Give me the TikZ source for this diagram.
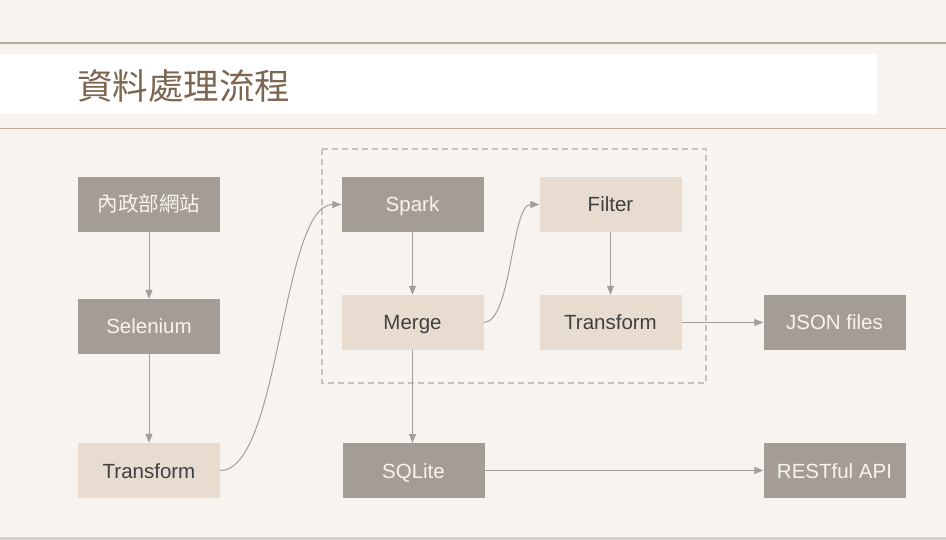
\documentclass[tikz,border=0pt]{standalone}
\usepackage{fontspec}
\setmainfont{Liberation Sans}
\newfontfamily\cjk{Noto Sans CJK TC}
\usetikzlibrary{arrows.meta}
\definecolor{bgc}{HTML}{F7F4EF}
\definecolor{rulec}{HTML}{B9AA9B}
\definecolor{titlec}{HTML}{7D6650}
\definecolor{darkc}{HTML}{A39D96}
\definecolor{lightc}{HTML}{E8DCD0}
\definecolor{darktxt}{HTML}{F7F4F0}
\definecolor{lighttxt}{HTML}{404040}
\definecolor{arrc}{HTML}{A39D96}
\definecolor{dashc}{HTML}{C6C2BD}
\definecolor{footc}{HTML}{D3D1CE}
\tikzset{
  box/.style={minimum width=142pt, minimum height=55pt, inner sep=0pt, text height=17pt, text depth=2pt, font=\fontsize{20.5}{22}\selectfont},
  darkbox/.style={box, fill=darkc, text=darktxt},
  lightbox/.style={box, fill=lightc, text=lighttxt},
  conn/.style={draw=arrc, line width=1pt, -{Triangle[length=9pt,width=7pt]}},
}
\begin{document}
\begin{tikzpicture}[x=1pt,y=-1pt]
\useasboundingbox (0,0) rectangle (946,540);
\fill[bgc] (0,0) rectangle (946,540);
\fill[footc] (0,537) rectangle (946,540);
\draw[rulec, line width=1.5pt] (0,43) -- (946,43);
\fill[white] (0,54) rectangle (877,114);
\draw[rulec, line width=1.5pt] (0,128.5) -- (946,128.5);
\node[anchor=west, inner sep=0pt, text=titlec, font=\cjk\fontsize{35.5}{38}\selectfont] (title) at (77,86) {資料處理流程};

\draw[dashc, line width=1.3pt, dash pattern=on 6pt off 4pt] (322,149) rectangle (706,383);

\node[darkbox, font=\cjk\fontsize{20.5}{22}\selectfont] (web) at (149,204.5) {內政部網站};
\node[darkbox] (sel) at (149,326.5) {Selenium};
\node[lightbox] (tr1) at (149,470.5) {Transform};
\node[darkbox] (spark) at (412.5,204.5) {Spark};
\node[lightbox] (merge) at (412.5,322.5) {Merge};
\node[lightbox] (filter) at (610.5,204.5) {Filter};
\node[lightbox] (tr2) at (610.5,322.5) {Transform};
\node[darkbox] (json) at (834.5,322.5) {JSON files};
\node[darkbox] (sqlite) at (413.5,470.5) {SQLite};
\node[darkbox] (rest) at (834.5,470.5) {RESTful API};

\draw[conn] (web) -- (sel);
\draw[conn] (sel) -- (tr1);
\draw[conn] (tr1.east) .. controls +(60,0) and +(-60,0) .. (spark.west);
\draw[conn] (spark) -- (merge);
\draw[conn] (merge.east) .. controls +(28,0) and +(-28,0) .. (filter.west);
\draw[conn] (filter) -- (tr2);
\draw[conn] (tr2) -- (json);
\draw[conn] (merge.south -| 412.5,0) -- (412.5,443);
\draw[conn] (sqlite) -- (rest);
\end{tikzpicture}
\end{document}
